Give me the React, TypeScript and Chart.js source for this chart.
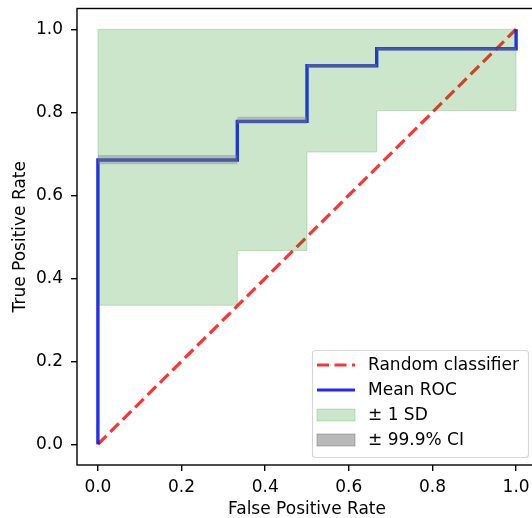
import React, { useEffect, useRef } from "react";
import { Chart, registerables } from "chart.js";

Chart.register(...registerables);

// ROC curve vertices (step form)
const fpr = [0, 0, 1 / 3, 1 / 3, 0.5, 0.5, 2 / 3, 2 / 3, 1, 1];
const meanTpr = [0, 0.685, 0.685, 0.778, 0.778, 0.912, 0.912, 0.953, 0.953, 1.0];
const sdUpper = [0, 1, 1, 1, 1, 1, 1, 1, 1, 1];
const sdLower = [0, 0.335, 0.335, 0.467, 0.467, 0.704, 0.704, 0.804, 0.804, 1.0];
const ciUpper = [0, 0.697, 0.697, 0.789, 0.789, 0.916, 0.916, 0.956, 0.956, 1.0];
const ciLower = [0, 0.675, 0.675, 0.772, 0.772, 0.907, 0.907, 0.949, 0.949, 1.0];
const randomX = [0, 1];
const randomY = [0, 1];
const tickValues = [0, 0.2, 0.4, 0.6, 0.8, 1.0];

const FONT = "'DejaVu Sans', sans-serif";
const RED = "rgba(255,0,0,0.8)";
const BLUE = "rgba(0,0,255,0.85)";
const GREEN_FILL = "rgba(0,128,0,0.2)";
const GREY_FILL = "rgba(128,128,128,0.42)";
const GREY_PATCH = "rgba(128,128,128,0.55)";

const pts = (xs: number[], ys: number[]) => xs.map((x, i) => ({ x, y: ys[i] }));

const legendItems = [
  { label: "Random classifier", kind: "dash", color: RED },
  { label: "Mean ROC", kind: "line", color: BLUE },
  { label: "\u00b1 1 SD", kind: "patch", color: GREEN_FILL },
  { label: "\u00b1 99.9% CI", kind: "patch", color: GREY_PATCH },
];

const framePlugin = {
  id: "frameAndLegend",
  afterDatasetsDraw(chart: any) {
    const { ctx, chartArea } = chart;
    ctx.save();
    ctx.strokeStyle = "#000";
    ctx.lineWidth = 1.4;
    ctx.strokeRect(chartArea.left, chartArea.top, chartArea.right - chartArea.left, chartArea.bottom - chartArea.top);
    ctx.restore();

    // legend box
    const bx = 312.5, by = 350.5, bw = 216, bh = 107;
    ctx.save();
    ctx.beginPath();
    const r = 3;
    ctx.moveTo(bx + r, by);
    ctx.arcTo(bx + bw, by, bx + bw, by + bh, r);
    ctx.arcTo(bx + bw, by + bh, bx, by + bh, r);
    ctx.arcTo(bx, by + bh, bx, by, r);
    ctx.arcTo(bx, by, bx + bw, by, r);
    ctx.closePath();
    ctx.fillStyle = "rgba(255,255,255,0.8)";
    ctx.fill();
    ctx.strokeStyle = "#d6d6d6";
    ctx.lineWidth = 1.2;
    ctx.stroke();
    ctx.font = `17px ${FONT}`;
    ctx.textBaseline = "middle";
    ctx.fillStyle = "#000";
    const rowY = [365, 390, 415, 440];
    legendItems.forEach((it, i) => {
      const y = rowY[i];
      if (it.kind === "dash" || it.kind === "line") {
        ctx.beginPath();
        ctx.strokeStyle = it.color;
        ctx.lineWidth = 3.2;
        ctx.setLineDash(it.kind === "dash" ? [12, 5.5] : []);
        ctx.moveTo(317, y);
        ctx.lineTo(355, y);
        ctx.stroke();
        ctx.setLineDash([]);
      } else {
        ctx.fillStyle = it.color;
        ctx.fillRect(317, y - 6, 38, 12);
        ctx.strokeStyle = it.color;
        ctx.lineWidth = 1;
        ctx.strokeRect(317, y - 6, 38, 12);
      }
      ctx.fillStyle = "#000";
      ctx.fillText(it.label, 368, y + 1);
    });
    ctx.restore();
  },
};

export default function App() {
  const ref = useRef<HTMLCanvasElement>(null);
  useEffect(() => {
    if (!ref.current) return;
    const chart = new Chart(ref.current, {
      type: "line",
      data: {
        datasets: [
          {
            label: "± 99.9% CI",
            data: pts(fpr, ciUpper),
            borderColor: "rgba(0,0,0,0)",
            borderWidth: 0,
            backgroundColor: GREY_FILL,
            fill: "+1",
            pointRadius: 0,
            tension: 0,
          },
          {
            label: "ci-lower",
            data: pts(fpr, ciLower),
            borderColor: "rgba(0,0,0,0)",
            borderWidth: 0,
            fill: false,
            pointRadius: 0,
            tension: 0,
          },
          {
            label: "± 1 SD",
            data: pts(fpr, sdUpper),
            borderColor: GREEN_FILL,
            borderWidth: 1,
            backgroundColor: GREEN_FILL,
            fill: "+1",
            pointRadius: 0,
            tension: 0,
          },
          {
            label: "sd-lower",
            data: pts(fpr, sdLower),
            borderColor: GREEN_FILL,
            borderWidth: 1,
            fill: false,
            pointRadius: 0,
            tension: 0,
          },
          {
            label: "Mean ROC",
            data: pts(fpr, meanTpr),
            borderColor: BLUE,
            borderWidth: 3.4,
            fill: false,
            pointRadius: 0,
            tension: 0,
          },
          {
            label: "Random classifier",
            data: pts(randomX, randomY),
            borderColor: RED,
            borderWidth: 3.2,
            borderDash: [12, 5.5],
            fill: false,
            pointRadius: 0,
            tension: 0,
          },
        ],
      },
      options: {
        animation: false,
        responsive: false,
        devicePixelRatio: 1,
        layout: { padding: { top: 8.5, right: 8, left: 0, bottom: 0 } },
        plugins: { legend: { display: false }, tooltip: { enabled: false } },
        scales: {
          x: {
            type: "linear",
            min: -0.05,
            max: 1.05,
            afterBuildTicks: (s: any) => {
              s.ticks = tickValues.map((v) => ({ value: v }));
            },
            afterFit: (s: any) => {
              s.height = 53;
            },
            ticks: {
              color: "#000",
              font: { family: FONT, size: 17 },
              padding: 6,
              maxRotation: 0,
              callback: (v: any) => Number(v).toFixed(1),
            },
            grid: { drawOnChartArea: false, drawTicks: true, tickLength: 6, color: "#000", lineWidth: 1.4 },
            border: { display: false },
            title: { display: true, text: "False Positive Rate", color: "#000", font: { family: FONT, size: 17 }, padding: { top: 0, bottom: -2 } },
          },
          y: {
            type: "linear",
            min: -0.05,
            max: 1.05,
            afterBuildTicks: (s: any) => {
              s.ticks = tickValues.map((v) => ({ value: v }));
            },
            afterFit: (s: any) => {
              s.width = 77;
              s.paddingTop = 0;
              s.paddingBottom = 0;
            },
            ticks: {
              color: "#000",
              font: { family: FONT, size: 17 },
              padding: 8,
              callback: (v: any) => Number(v).toFixed(1),
            },
            grid: { drawOnChartArea: false, drawTicks: true, tickLength: 6, color: "#000", lineWidth: 1.4 },
            border: { display: false },
            title: { display: true, text: "True Positive Rate", color: "#000", font: { family: FONT, size: 17 }, padding: { top: 10, bottom: 0 } },
          },
        },
      },
      plugins: [framePlugin],
    });
    return () => chart.destroy();
  }, []);
  return (
    <div style={{ position: "fixed", left: 0, top: 0, width: 532, height: 518, overflow: "hidden", background: "#fff" }}>
      <canvas ref={ref} width={545} height={518} style={{ display: "block" }} />
    </div>
  );
}
